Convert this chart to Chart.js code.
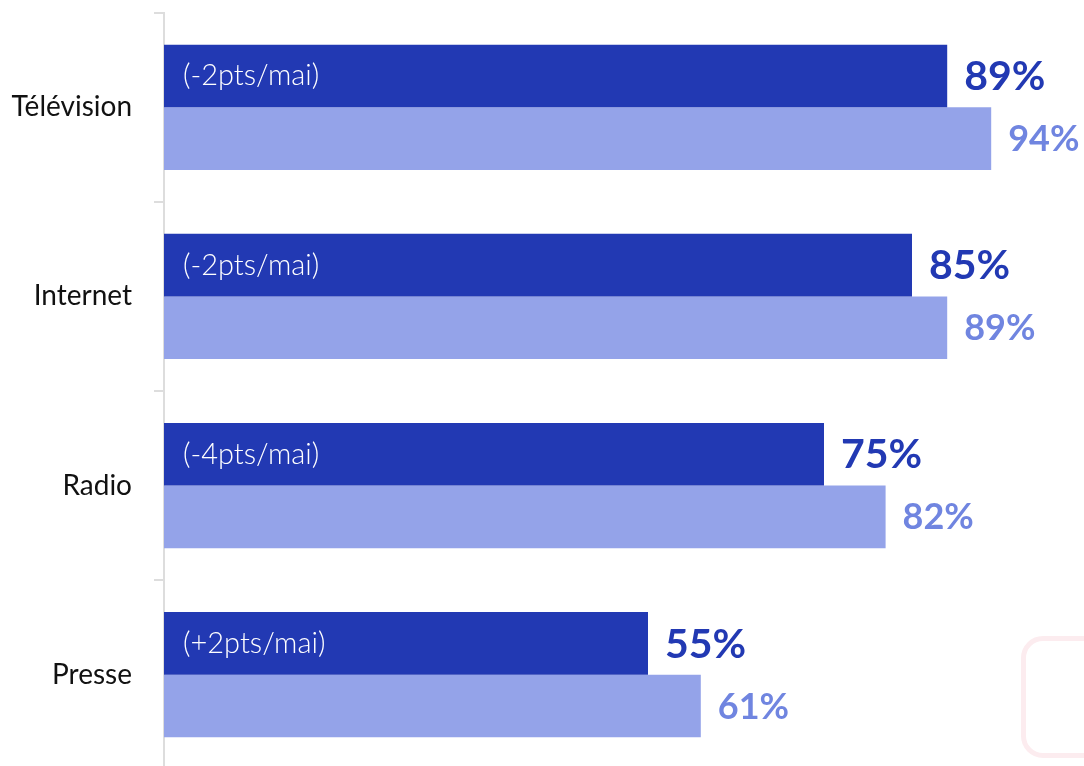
<!DOCTYPE html>
<html>
<head>
<meta charset="utf-8">
<script src="https://cdn.jsdelivr.net/npm/chart.js@4/dist/chart.umd.min.js"></script>
<style>
    html, body { margin: 0; padding: 0; background: #fff; overflow: hidden; }
    #wrap { position: relative; width: 1084px; height: 766px; overflow: hidden; }
    #wrap canvas { position: absolute; left: 0; top: -26px; }
    #deco { position: absolute; left: 1021px; top: 636px; width: 80px; height: 112px;
            border: 5px solid #fcecef; border-radius: 22px; }
</style>
</head>
<body>
<div id="wrap">
    <canvas id="mediaChart" width="1084" height="834"></canvas>
    <div id="deco"></div>
</div>
<script>
// data
var categories = ['Télévision', 'Internet', 'Radio', 'Presse'];
var currentValues = [89, 85, 75, 55];
var previousValues = [94, 89, 82, 61];
var evolutionLabels = ['(-2pts/mai)', '(-2pts/mai)', '(-4pts/mai)', '(+2pts/mai)'];

var darkBlue = '#2239b3';
var lightBlue = '#94a3e9';
var lightText = '#7085e0';

// Draw the value labels and the evolution notes
var labelPlugin = {
    id: 'barLabels',
    afterDatasetsDraw: function(chart) {
        var ctx = chart.ctx;
        ctx.save();
        ctx.textBaseline = 'middle';
        chart.data.datasets.forEach(function(ds, i) {
            var meta = chart.getDatasetMeta(i);
            meta.data.forEach(function(bar, j) {
                if (i === 0) {
                    ctx.font = 'bold 41px Lato';
                    ctx.fillStyle = darkBlue;
                } else {
                    ctx.font = 'bold 36px Lato';
                    ctx.fillStyle = lightText;
                }
                ctx.textAlign = 'left';
                ctx.fillText(ds.data[j] + '%', bar.x + 17, bar.y + 1);
                if (i === 0) {
                    ctx.font = '300 29px Lato';
                    ctx.fillStyle = '#ffffff';
                    ctx.fillText(evolutionLabels[j], bar.base + 19, bar.y);
                }
            });
        });
        ctx.restore();
    }
};

var ctx = document.getElementById('mediaChart').getContext('2d');
var mediaChart = new Chart(ctx, {
    type: 'bar',
    data: {
        labels: categories,
        datasets: [{
            label: 'Actuel',
            data: currentValues,
            backgroundColor: darkBlue
        }, {
            label: 'Mai',
            data: previousValues,
            backgroundColor: lightBlue
        }]
    },
    options: {
        indexAxis: 'y',
        responsive: false,
        animation: false,
        events: [],
        layout: {
            padding: { top: 0, right: 40, bottom: 0, left: 0 }
        },
        datasets: {
            bar: {
                categoryPercentage: 0.662,
                barPercentage: 1.0
            }
        },
        scales: {
            x: {
                display: false,
                min: 0,
                max: 100
            },
            y: {
                afterFit: function(scale) { scale.width = 164; },
                border: { color: '#dddddd', width: 2 },
                grid: {
                    drawOnChartArea: false,
                    color: '#dddddd',
                    lineWidth: 2,
                    tickLength: 10
                },
                ticks: {
                    color: '#111111',
                    padding: 22,
                    font: { family: 'Lato', size: 28 }
                }
            }
        },
        plugins: {
            legend: { display: false },
            tooltip: { enabled: false }
        }
    },
    plugins: [labelPlugin]
});
</script>
</body>
</html>
